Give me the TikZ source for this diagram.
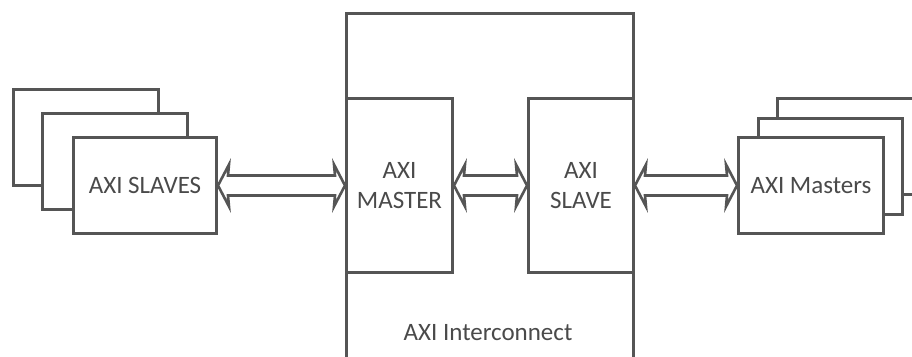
\documentclass[tikz,border=0pt]{standalone}
\usepackage{fontspec}
\setmainfont{Carlito}
\usetikzlibrary{calc}
\definecolor{ln}{HTML}{555555}
\definecolor{tx}{HTML}{4A4A4A}
\newcommand\dblarrow[2]{%
  \draw[fatarr] let \p1=(#1), \p2=(#2) in
    (\x1,\y1) -- (\x1+11pt,\y1+21pt) -- (\x1+10pt,\y1+10pt) --
    (\x2-10pt,\y2+10pt) -- (\x2-11pt,\y2+21pt) -- (\x2,\y2) --
    (\x2-11pt,\y2-21pt) -- (\x2-10pt,\y2-10pt) --
    (\x1+10pt,\y1-10pt) -- (\x1+11pt,\y1-21pt) -- cycle;}
\begin{document}
\begin{tikzpicture}[x=1pt,y=-1pt,
  box/.style={draw=ln,line width=3pt,fill=white,inner sep=0pt,anchor=north west,
    font=\fontsize{25}{30}\selectfont,text=tx,align=center},
  txt/.style={font=\fontsize{25}{30}\selectfont,text=tx,inner sep=0pt},
  fatarr/.style={draw=ln,line width=2.6pt,fill=white,line join=miter}]
\useasboundingbox (0,0) rectangle (912,356);
\clip (0,0) rectangle (912,356);
% left stack
\node[box,minimum width=145pt,minimum height=96pt] (sl3) at (12,88) {};
\node[box,minimum width=145pt,minimum height=96pt] (sl2) at (41,112) {};
\node[box,minimum width=143pt,minimum height=96pt] (slaves) at (72,136) {AXI SLAVES};
% interconnect
\node[box,minimum width=287pt,minimum height=380pt] (ic) at (345,12) {};
\node[box,minimum width=106pt,minimum height=174pt] (master) at (345,97) {AXI\\MASTER};
\node[box,minimum width=105pt,minimum height=174pt] (slave) at (527,97) {AXI\\SLAVE};
\node[txt] (iclabel) at (488,333) {AXI Interconnect};
% right stack
\node[box,minimum width=170pt,minimum height=96pt] (ma3) at (776,97) {};
\node[box,minimum width=144pt,minimum height=96pt] (ma2) at (757,117) {};
\node[box,minimum width=145pt,minimum height=96pt] (masters) at (737,136) {AXI Masters};
% arrows
\dblarrow{slaves.east}{master.west}
\dblarrow{master.east}{slave.west}
\dblarrow{slave.east}{masters.west}
\end{tikzpicture}
\end{document}
